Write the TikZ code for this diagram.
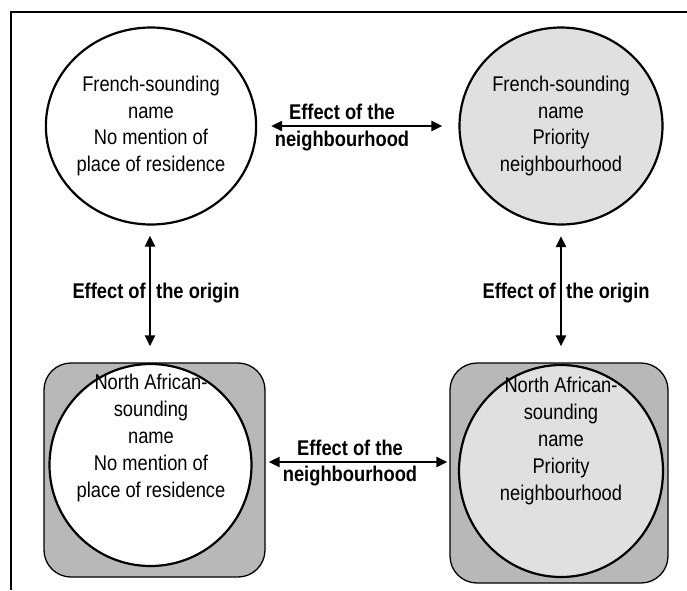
\documentclass[tikz,border=0pt]{standalone}
\usepackage{fontspec}
\setmainfont[FakeStretch=0.86]{Liberation Sans}
\usetikzlibrary{shapes.geometric,arrows.meta,calc}
\definecolor{boxgray}{gray}{0.72}
\definecolor{lightfill}{gray}{0.88}
\begin{document}
\begin{tikzpicture}[x=1pt,y=-1pt,
  circ/.style={ellipse,draw,line width=2.2pt,inner sep=0pt,align=center,
    font=\fontsize{21.3}{26.8}\selectfont},
  roundbox/.style={draw,line width=1.3pt,rounded corners=27pt,fill=boxgray},
  body/.style={font=\fontsize{21.3}{27}\selectfont,align=center,inner sep=0pt},
  lab/.style={font=\fontsize{21.3}{27.5}\selectfont\bfseries,inner sep=0pt},
  biarrow/.style={line width=2.4pt,{Triangle[length=11pt,width=10pt]}-{Triangle[length=11pt,width=10pt]}}]
\useasboundingbox (0,0) rectangle (687,590);
% frame
\draw[line width=1.3pt] (11,590) -- (11,12) -- (687,12);
% top circles
\node[circ,minimum width=200pt,minimum height=197pt,fill=white] (tl) at (151,126)
  {French-sounding\\name\\No mention of\\place of residence};
\node[circ,minimum width=203pt,minimum height=197pt,fill=lightfill] (tr) at (561,126)
  {French-sounding\\name\\Priority\\neighbourhood};
% bottom boxes and circles
\node[roundbox,minimum width=221pt,minimum height=214pt] (blbox) at (154.5,470) {};
\node[circ,minimum width=202pt,minimum height=202pt,fill=white] (bl) at (150.5,465) {};
\node[body] (bltext) at (151,438)
  {North African-\\sounding\\name\\No mention of\\place of residence};
\node[roundbox,minimum width=218pt,minimum height=220pt] (brbox) at (559,473) {};
\node[circ,minimum width=204pt,minimum height=212pt,fill=lightfill] (br) at (561,471) {};
\node[body] (brtext) at (561,441)
  {North African-\\sounding\\name\\Priority\\neighbourhood};
% horizontal arrows
\draw[biarrow] ($(tl.east)+(14,0)$) -- ($(tr.west)+(-16,0)$);
\node[lab] (h1a) at (342,112) {Effect of the};
\node[lab] (h1b) at (342,141) {neighbourhood};
\draw[biarrow] ($(blbox.east)+(3,-8)$) -- ($(brbox.west)+(-2,-11)$);
\node[lab] (h2a) at (350,448) {Effect of the};
\node[lab] (h2b) at (350,476) {neighbourhood};
% vertical arrows
\draw[biarrow] ($(tl.south)+(-1,10)$) -- ($(tl.south |- blbox.north)+(-1,-16)$);
\node[lab,anchor=base east] (v1a) at (146,298) {Effect of};
\node[lab,anchor=base west] (v1b) at (156,298) {the origin};
\draw[biarrow] ($(tr.south)+(0,10.5)$) -- ($(tr.south |- brbox.north)+(0,-16)$);
\node[lab,anchor=base east] (v2a) at (556,298) {Effect of};
\node[lab,anchor=base west] (v2b) at (566,298) {the origin};
\end{tikzpicture}
\end{document}
